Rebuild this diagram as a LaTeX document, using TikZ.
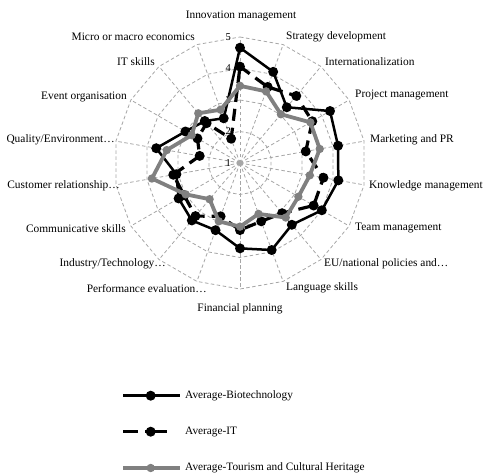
\documentclass[tikz,border=0pt]{standalone}
\usepackage{fontspec}
\setmainfont{Liberation Serif}
\usetikzlibrary{positioning}

\definecolor{gridgray}{RGB}{166,166,166}
\definecolor{tourgray}{RGB}{128,128,128}

\tikzset{
  gridline/.style={draw=gridgray, dash pattern=on 3.5pt off 2.5pt, line width=0.8pt},
  axislabel/.style={font=\fontsize{11.4}{13}\selectfont, inner sep=0pt},
  scalelabel/.style={font=\fontsize{10.5}{12}\selectfont, inner sep=0pt, anchor=east},
  legendtext/.style={font=\fontsize{11.3}{13}\selectfont, inner sep=0pt, anchor=west},
  bioline/.style={draw=black, line width=2.5pt, line join=round},
  itline/.style={draw=black, line width=3.2pt, dash pattern=on 12pt off 7pt},
  tourline/.style={draw=tourgray, line width=3.8pt, line join=round}
}

\begin{document}
\begin{tikzpicture}[x=1pt,y=1pt]
  \useasboundingbox (-240,-309) rectangle (244,163);

  % Grid rings and spokes
  \foreach \r in {1,...,4}
    \draw[gridline] (90:{31.5*\r}) \foreach \k in {1,...,17} { -- ({90-20*\k}:{31.5*\r}) } -- cycle;
  \foreach \k in {0,...,17}
    \draw[gridline] (0,0) -- ({90-20*\k}:126);
  \fill[gridgray] (0,0) circle (3);

  % Scale labels
  \foreach \v in {1,...,5}
    \node[scalelabel] (s\v) at (-9,{31.5*(\v-1)}) {\v};

  % Axis labels
  \node[axislabel] (innov) at (1,147) {Innovation management};
  \node[axislabel, anchor=west] (strat) at (46,126) {Strategy development};
  \node[axislabel, anchor=west] (intl) at (85,101) {Internationalization};
  \node[axislabel, anchor=west] (proj) at (115,68) {Project management};
  \node[axislabel, anchor=west] (mark) at (130,23) {Marketing and PR};
  \node[axislabel, anchor=west] (know) at (129,-23) {Knowledge management};
  \node[axislabel, anchor=west] (team) at (115,-65) {Team management};
  \node[axislabel, anchor=west] (eu) at (84,-101) {EU/national policies and…};
  \node[axislabel, anchor=west] (lang) at (46,-125) {Language skills};
  \node[axislabel] (fin) at (0,-146) {Financial planning};
  \node[axislabel, anchor=east] (perf) at (-33,-126) {Performance evaluation…};
  \node[axislabel, anchor=east] (indu) at (-74,-101) {Industry/Technology…};
  \node[axislabel, anchor=east] (comm) at (-114,-66) {Communicative skills};
  \node[axislabel, anchor=east] (cust) at (-120,-23) {Customer relationship…};
  \node[axislabel, anchor=east] (qual) at (-125,23) {Quality/Environment…};
  \node[axislabel, anchor=east] (event) at (-113,66) {Event organisation};
  \node[axislabel, anchor=east] (itsk) at (-85,101) {IT skills};
  \node[axislabel, anchor=east] (micro) at (-45,126) {Micro or macro economics};

  % Average-Biotechnology
  \foreach \k/\v in {0/4.66,1/4.08,2/3.31,3/4.30,4/4.16,5/4.17,6/4.00,7/3.56,8/3.94,
                     9/3.71,10/3.27,11/3.38,12/3.25,13/3.05,14/3.70,15/3.00,16/2.74,17/2.51}
    \coordinate (B\k) at ({90-20*\k}:{31.5*(\v-1)});
  \draw[bioline] (B0) \foreach \k in {1,...,17} { -- (B\k) } -- cycle;
  \foreach \k in {0,...,17}
    \fill (B\k) circle (5);

  % Average-IT
  \foreach \k/\v in {0/4.06,1/3.57,2/3.78,3/3.65,4/3.12,5/3.69,6/3.70,7/3.08,8/2.97,
                     9/3.13,10/2.80,11/3.20,12/3.05,13/3.15,14/2.30,15/2.56,16/2.65,17/1.82}
    \coordinate (I\k) at ({90-20*\k}:{31.5*(\v-1)});
  \draw[itline] (I0) \foreach \k in {1,...,17} { -- (I\k) } -- cycle;
  \foreach \k in {0,...,17}
    \fill (I\k) circle (5);

  % Average-Tourism and Cultural Heritage
  \foreach \k/\v in {0/3.45,1/3.42,2/3.02,3/3.58,4/3.57,5/3.25,6/3.14,7/3.26,8/2.72,
                     9/3.02,10/2.97,11/2.50,12/2.99,13/3.84,14/3.36,15/2.77,16/3.06,17/2.80}
    \coordinate (T\k) at ({90-20*\k}:{31.5*(\v-1)});
  \draw[tourline] (T0) \foreach \k in {1,...,17} { -- (T\k) } -- cycle;
  \foreach \k in {0,...,17}
    \fill[tourgray] (T\k) circle (4.2);

  % Legend
  \coordinate (lb1) at (-116.7,-232.7);
  \coordinate (lbm) at (-89.3,-232.7);
  \coordinate (lb2) at (-60,-232.7);
  \draw[bioline] (lb1) -- (lb2);
  \fill (lbm) circle (5);
  \node[legendtext, right=5pt of lb2] (lbt) {Average-Biotechnology};

  \coordinate (li1) at (-116.7,-268.7);
  \coordinate (lim) at (-89.3,-268.7);
  \coordinate (li2) at (-60,-268.7);
  \draw[itline, dash pattern=on 15pt off 7pt on 22pt off 20pt] (li1) -- (li2);
  \fill (lim) circle (5);
  \node[legendtext, right=5pt of li2] (lit) {Average-IT};

  \coordinate (lt1) at (-116.7,-305);
  \coordinate (ltm) at (-89.3,-305);
  \coordinate (lt2) at (-60,-305);
  \draw[tourline] (lt1) -- (lt2);
  \fill[tourgray] (ltm) circle (4.2);
  \node[legendtext, right=5pt of lt2] (ltt) {Average-Tourism and Cultural Heritage};
\end{tikzpicture}
\end{document}
